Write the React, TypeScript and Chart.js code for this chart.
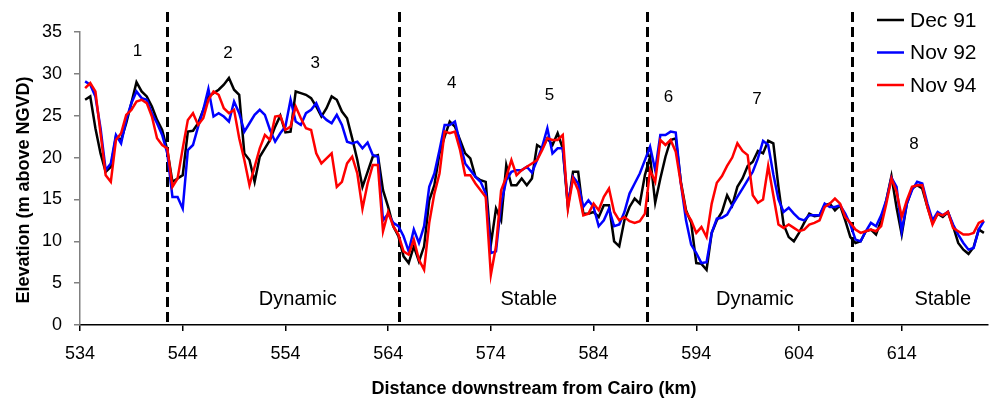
import React, { useEffect, useRef } from "react";
import { Chart, registerables } from "chart.js";

Chart.register(...registerables);

// Distance downstream from Cairo (km)
const DISTANCE_KM = [
  534.5, 535, 535.5, 536, 536.5, 537, 537.5, 538, 538.5, 539, 539.5, 540, 540.5, 541, 541.5, 542, 542.5, 543, 543.5, 544,
  544.5, 545, 545.5, 546, 546.5, 547, 547.5, 548, 548.5, 549, 549.5, 550, 550.5, 551, 551.5, 552, 552.5, 553, 553.5, 554,
  554.5, 555, 555.5, 556, 556.5, 557, 557.5, 558, 558.5, 559, 559.5, 560, 560.5, 561, 561.5, 562, 562.5, 563, 563.5, 564,
  564.5, 565, 565.5, 566, 566.5, 567, 567.5, 568, 568.5, 569, 569.5, 570, 570.5, 571, 571.5, 572, 572.5, 573, 573.5, 574,
  574.5, 575, 575.5, 576, 576.5, 577, 577.5, 578, 578.5, 579, 579.5, 580, 580.5, 581, 581.5, 582, 582.5, 583, 583.5, 584,
  584.5, 585, 585.5, 586, 586.5, 587, 587.5, 588, 588.5, 589, 589.5, 590, 590.5, 591, 591.5, 592, 592.5, 593, 593.5, 594,
  594.5, 595, 595.5, 596, 596.5, 597, 597.5, 598, 598.5, 599, 599.5, 600, 600.5, 601, 601.5, 602, 602.5, 603, 603.5, 604,
  604.5, 605, 605.5, 606, 606.5, 607, 607.5, 608, 608.5, 609, 609.5, 610, 610.5, 611, 611.5, 612, 612.5, 613, 613.5, 614,
  614.5, 615, 615.5, 616, 616.5, 617, 617.5, 618, 618.5, 619, 619.5, 620, 620.5, 621, 621.5, 622,
];

const DEC_91 = [
  26.9, 27.3, 23.5, 20.5, 18.3, 18.9, 22.5, 22.1, 24.1, 26.5, 29.0, 27.9, 27.3, 26.1, 24.5, 23.3, 20.9, 17.1, 17.5, 17.9,
  23.1, 23.2, 24.1, 25.7, 27.3, 27.7, 28.1, 28.7, 29.5, 28.1, 27.5, 20.5, 19.7, 17.1, 20.1, 21.1, 22.1, 23.7, 25.0, 23.0,
  23.1, 27.9, 27.7, 27.5, 27.1, 26.1, 24.9, 25.9, 27.3, 26.9, 25.5, 24.7, 22.3, 19.7, 16.5, 18.3, 20.1, 20.3, 16.1, 14.1,
  11.8, 10.6, 8.2, 7.4, 9.4, 7.6, 9.4, 14.9, 16.7, 20.5, 22.5, 24.3, 23.7, 22.1, 20.5, 19.9, 17.7, 17.3, 17.1, 9.6,
  13.9, 12.5, 19.1, 16.7, 16.7, 17.5, 16.7, 17.5, 21.5, 21.1, 22.3, 21.5, 22.9, 21.1, 14.1, 18.3, 18.3, 13.3, 13.3, 13.5,
  12.9, 14.3, 14.3, 10.0, 9.4, 12.5, 14.1, 15.1, 14.5, 17.9, 20.1, 14.6, 17.5, 20.1, 22.1, 22.3, 17.1, 13.7, 12.2, 7.4,
  7.3, 6.6, 11.0, 12.5, 13.5, 15.5, 14.3, 16.5, 17.5, 19.0, 19.5, 20.8, 20.5, 22.0, 21.7, 16.5, 12.0, 10.5, 10.0, 11.0,
  12.2, 13.3, 13.0, 13.1, 14.3, 14.5, 13.7, 14.3, 12.5, 10.5, 9.8, 10.0, 11.2, 11.4, 10.8, 12.5, 14.9, 17.8, 14.0, 10.8,
  14.5, 16.3, 16.7, 16.3, 14.1, 12.2, 13.3, 12.9, 13.5, 11.8, 9.8, 9.0, 8.5, 9.3, 11.4, 11.0,
];

const NOV_92 = [
  29.1, 28.7, 27.3, 23.5, 18.5, 19.3, 22.7, 21.7, 24.5, 26.5, 27.9, 27.1, 26.9, 25.3, 24.1, 22.7, 20.5, 15.3, 15.3, 13.9,
  20.9, 21.5, 23.7, 25.7, 28.2, 24.9, 25.3, 24.9, 24.3, 26.7, 25.3, 23.1, 24.1, 25.1, 25.7, 25.1, 23.3, 21.9, 22.9, 23.7,
  26.9, 24.3, 23.9, 25.3, 25.7, 26.5, 25.1, 24.5, 24.1, 25.1, 23.9, 21.9, 21.7, 21.9, 21.1, 21.8, 20.3, 20.1, 12.5, 13.3,
  12.2, 11.8, 10.6, 8.8, 11.4, 9.8, 11.8, 16.5, 18.1, 20.9, 23.9, 23.9, 24.3, 21.7, 19.3, 18.5, 17.7, 17.1, 15.7, 8.6,
  8.8, 14.5, 17.3, 18.3, 18.5, 18.5, 18.9, 18.2, 19.7, 21.3, 23.5, 20.5, 21.1, 21.1, 14.5, 17.7, 16.9, 14.1, 14.9, 14.1,
  11.8, 12.5, 13.9, 11.8, 12.0, 13.5, 15.7, 16.9, 18.1, 19.7, 21.3, 18.5, 22.7, 22.7, 23.1, 23.0, 16.9, 12.5, 9.6, 8.6,
  7.4, 7.5, 11.0, 12.7, 12.8, 13.2, 14.3, 15.3, 16.3, 17.3, 18.3, 19.9, 22.0, 21.5, 18.0, 15.0, 13.5, 14.0, 13.3, 12.7,
  12.5, 13.1, 13.1, 13.1, 14.5, 14.1, 14.1, 14.3, 13.3, 12.0, 10.2, 10.0, 11.2, 12.2, 11.8, 13.1, 14.9, 17.6, 16.5, 11.2,
  14.5, 16.1, 17.1, 16.9, 14.5, 12.5, 13.5, 13.1, 13.5, 12.0, 10.8, 9.8, 9.0, 9.2, 11.4, 12.4,
];

const NOV_94 = [
  28.3, 28.9, 27.9, 22.9, 17.9, 17.1, 22.1, 22.9, 25.1, 25.7, 26.7, 26.9, 26.5, 24.9, 22.3, 21.5, 21.1, 16.5, 17.5, 21.1,
  24.5, 25.3, 23.9, 24.7, 26.9, 27.9, 27.5, 25.9, 25.3, 25.7, 22.3, 19.7, 16.7, 18.9, 21.1, 22.7, 22.1, 24.9, 25.0, 23.3,
  23.7, 26.1, 24.7, 23.5, 23.3, 20.5, 19.3, 19.9, 20.5, 16.5, 17.1, 19.3, 20.1, 18.1, 13.9, 16.9, 19.1, 19.1, 11.2, 13.5,
  11.8, 10.8, 8.8, 8.4, 10.2, 7.8, 6.6, 12.2, 15.7, 18.1, 23.1, 22.9, 23.1, 20.9, 17.9, 17.9, 16.9, 16.1, 15.3, 6.0,
  9.4, 16.1, 17.7, 19.7, 17.9, 18.5, 18.9, 19.3, 19.7, 20.9, 22.3, 22.1, 22.1, 22.7, 13.9, 17.5, 16.1, 13.1, 13.3, 14.5,
  13.7, 15.3, 16.3, 13.5, 12.5, 12.9, 12.4, 12.2, 12.4, 13.3, 18.5, 17.1, 22.1, 21.5, 22.1, 20.7, 16.9, 13.5, 12.5, 11.0,
  11.7, 10.5, 14.5, 17.0, 17.8, 19.0, 20.0, 21.7, 20.8, 20.3, 15.5, 14.6, 15.0, 19.0, 15.5, 12.0, 11.6, 12.0, 11.6, 11.2,
  11.4, 12.0, 12.2, 12.5, 14.1, 14.5, 15.1, 14.5, 12.9, 12.2, 11.4, 11.0, 11.2, 11.4, 11.2, 11.8, 14.5, 17.5, 15.9, 12.9,
  14.9, 16.5, 16.7, 16.7, 14.1, 12.0, 13.3, 13.1, 13.5, 11.6, 11.2, 10.8, 10.8, 11.0, 12.2, 12.5,
];

const SERIES_NAMES = ["Dec 91", "Nov 92", "Nov 94"];
const SERIES_COLORS = ["#000000", "#0000FF", "#FF0000"];

const X_TICKS = [534, 544, 554, 564, 574, 584, 594, 604, 614];
const Y_TICKS = [0, 5, 10, 15, 20, 25, 30, 35];

// Reach boundaries (dashed lines)
const BOUNDARY_KM = [542.5, 565.1, 589.2, 609.2];

// Reach numbers
const REACH_NUMBERS = ["1", "2", "3", "4", "5", "6", "7", "8"];
const REACH_NUMBER_KM = [539.6, 548.4, 556.9, 570.2, 579.7, 591.3, 599.9, 615.2];
const REACH_NUMBER_ELEV = [32.7, 32.4, 31.2, 28.9, 27.4, 27.2, 27.0, 21.6];

// Zone types
const ZONE_NAMES = ["Dynamic", "Stable", "Dynamic", "Stable"];
const ZONE_NAME_KM = [555.2, 577.7, 599.7, 618.0];
const ZONE_NAME_ELEV = [3.0, 3.0, 3.0, 3.0];

const FONT = "'Liberation Sans', Arial, sans-serif";

const overlayPlugin = {
  id: "overlay",
  beforeDatasetsDraw(chart: any) {
    const { ctx, chartArea, scales } = chart;
    const x = scales.x;
    ctx.save();
    ctx.strokeStyle = "#000";
    ctx.lineWidth = 3;
    ctx.setLineDash([10, 5]);
    for (const b of BOUNDARY_KM) {
      const px = Math.round(x.getPixelForValue(b)) + 0.5;
      ctx.beginPath();
      ctx.moveTo(px, chartArea.top - 20);
      ctx.lineTo(px, chartArea.bottom);
      ctx.stroke();
    }
    ctx.restore();
  },
  afterDraw(chart: any) {
    const { ctx, chartArea, scales } = chart;
    const x = scales.x;
    const y = scales.y;
    ctx.save();
    ctx.fillStyle = "#000";
    ctx.textAlign = "center";
    ctx.textBaseline = "middle";

    ctx.font = `17px ${FONT}`;
    REACH_NUMBERS.forEach((t, i) => {
      ctx.fillText(t, x.getPixelForValue(REACH_NUMBER_KM[i]), y.getPixelForValue(REACH_NUMBER_ELEV[i]));
    });

    ctx.font = `20px ${FONT}`;
    ZONE_NAMES.forEach((t, i) => {
      ctx.fillText(t, x.getPixelForValue(ZONE_NAME_KM[i]), y.getPixelForValue(ZONE_NAME_ELEV[i]));
    });

    // Axis titles
    ctx.font = `bold 18px ${FONT}`;
    ctx.fillText("Distance downstream from Cairo (km)", (chartArea.left + chartArea.right) / 2, 389);
    ctx.save();
    ctx.translate(24, 190);
    ctx.rotate(-Math.PI / 2);
    ctx.fillText("Elevation (m above NGVD)", 0, 0);
    ctx.restore();

    // Legend
    ctx.font = `21px ${FONT}`;
    ctx.textAlign = "left";
    const lx = chartArea.right - 111;
    SERIES_NAMES.forEach((name, i) => {
      const ly = 20 + i * 32.5;
      ctx.strokeStyle = SERIES_COLORS[i];
      ctx.lineWidth = 2.5;
      ctx.beginPath();
      ctx.moveTo(lx, ly);
      ctx.lineTo(lx + 27, ly);
      ctx.stroke();
      ctx.fillStyle = "#000";
      ctx.fillText(name, lx + 33, ly + 1);
    });
    ctx.restore();
  },
};

export default function App() {
  const canvasRef = useRef<HTMLCanvasElement | null>(null);

  useEffect(() => {
    const canvas = canvasRef.current;
    if (!canvas) return;
    const seriesValues = [DEC_91, NOV_92, NOV_94];
    const chart = new Chart(canvas, {
      type: "line",
      data: {
        datasets: seriesValues.map((vals, s) => ({
          label: SERIES_NAMES[s],
          data: DISTANCE_KM.map((km, i) => ({ x: km, y: vals[i] })),
          borderColor: SERIES_COLORS[s],
          backgroundColor: SERIES_COLORS[s],
          borderWidth: 2.5,
          pointRadius: 0,
          tension: 0,
          fill: false,
          order: 3 - s,
        })),
      },
      options: {
        responsive: false,
        animation: false,
        devicePixelRatio: 1,
        layout: { padding: { top: 32, right: 1, left: 0, bottom: 0 } },
        plugins: {
          legend: { display: false },
          tooltip: { enabled: false },
          title: { display: false },
        },
        scales: {
          x: {
            type: "linear",
            min: 534,
            max: 622.4,
            afterBuildTicks: (scale: any) => {
              scale.ticks = X_TICKS.map((v) => ({ value: v }));
            },
            afterFit: (scale: any) => {
              scale.height = 81;
            },
            border: { display: true, color: "#000", width: 1.5 },
            grid: { drawOnChartArea: false, drawTicks: true, tickLength: 6, color: "#000", lineWidth: 1.5 },
            ticks: {
              color: "#000",
              font: { family: FONT, size: 18 },
              padding: 12,
              maxRotation: 0,
              autoSkip: false,
            },
          },
          y: {
            min: 0,
            max: 35,
            afterBuildTicks: (scale: any) => {
              scale.ticks = Y_TICKS.map((v) => ({ value: v }));
            },
            afterFit: (scale: any) => {
              scale.width = 80;
            },
            border: { display: true, color: "#808080", width: 1.5 },
            grid: { drawOnChartArea: false, drawTicks: true, tickLength: 6, color: "#808080", lineWidth: 1.5 },
            ticks: {
              color: "#000",
              font: { family: FONT, size: 18 },
              padding: 12,
            },
          },
        },
      },
      plugins: [overlayPlugin],
    });
    return () => chart.destroy();
  }, []);

  return (
    <div style={{ position: "absolute", left: 0, top: 0, width: 989, height: 406, background: "#fff" }}>
      <canvas ref={canvasRef} width={989} height={406} style={{ width: 989, height: 406, display: "block" }} />
    </div>
  );
}
